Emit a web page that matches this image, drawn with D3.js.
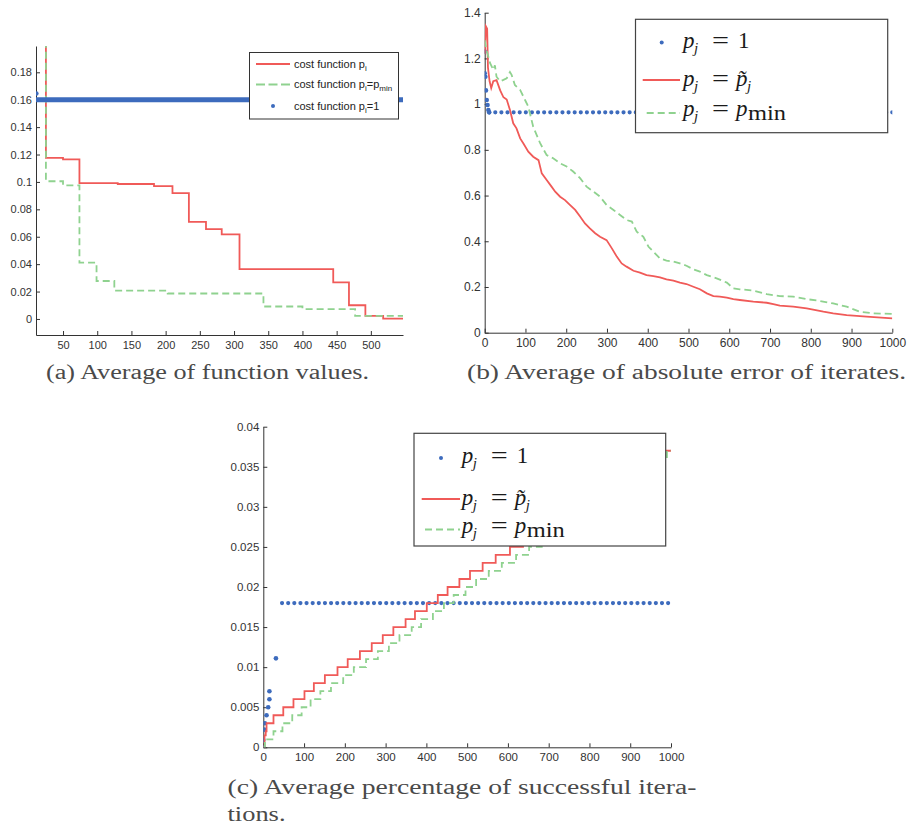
<!DOCTYPE html>
<html>
<head>
<meta charset="utf-8">
<title>Average results</title>
<style type="text/css">
body { margin: 0; background: #fff; }
svg { display: block; }
.tick text { fill: #333; }
</style>
<script src="https://cdn.jsdelivr.net/npm/d3@7"></script>
</head>
<body>
<script type="text/javascript">
// ---- data: [iteration, value] ----

// (a) average of function values
var aRed = [[25, 0.5], [25, 0.1175], [50, 0.1165], [74, 0.0992], [130, 0.0985], [183, 0.0969],
	[210, 0.0918], [234, 0.0709], [259, 0.0656], [282, 0.0617], [308, 0.0364], [445, 0.0267],
	[468, 0.0100], [492, 0.0022], [518, 0.0003], [547, 0.0003]];
var aGreen = [[25, 0.5], [25, 0.1005], [50, 0.0975], [74, 0.0411], [99, 0.0277], [125, 0.0207],
	[203, 0.0186], [343, 0.0091], [400, 0.0072], [477, 0.0022], [547, 0.0022]];
var aBlueDots = [[11, 0.1645]];
var aBlueFlat = [12, 547, 0.16];		// from, to, value (marker at every iteration)
var aXTicks = [50, 100, 150, 200, 250, 300, 350, 400, 450, 500];
var aYTicks = [0, 0.02, 0.04, 0.06, 0.08, 0.1, 0.12, 0.14, 0.16, 0.18];

// (b) average of absolute error of iterates
var bRed = [[0, 1.22], [3, 1.34], [6, 1.33], [8, 1.16], [12, 1.10], [16, 1.07], [21, 1.10], [29, 1.105],
	[38, 1.06], [46, 1.03], [54, 1.02], [62, 0.974], [70, 0.916], [78, 0.894], [87, 0.85], [95, 0.828],
	[107, 0.792], [119, 0.77], [132, 0.755], [140, 0.697], [152, 0.668], [164, 0.639], [173, 0.617],
	[185, 0.595], [197, 0.58], [209, 0.559], [222, 0.537], [234, 0.508], [246, 0.478], [258, 0.456],
	[271, 0.435], [283, 0.42], [299, 0.405], [312, 0.369], [324, 0.333], [336, 0.303], [348, 0.289],
	[365, 0.271], [381, 0.263], [397, 0.252], [414, 0.248], [430, 0.242], [446, 0.233], [463, 0.228],
	[479, 0.219], [495, 0.213], [512, 0.201], [528, 0.19], [545, 0.172], [561, 0.16], [577, 0.158],
	[594, 0.153], [610, 0.147], [626, 0.143], [659, 0.136], [692, 0.131], [708, 0.125], [724, 0.118],
	[757, 0.114], [790, 0.106], [831, 0.092], [855, 0.085], [888, 0.077], [937, 0.07], [1000, 0.063]];
var bGreen = [[0, 1.28], [4, 1.24], [13, 1.18], [21, 1.15], [25, 1.17], [29, 1.12], [38, 1.10],
	[46, 1.106], [54, 1.113], [62, 1.14], [66, 1.128], [74, 1.084], [87, 1.062], [99, 1.018],
	[107, 0.989], [119, 0.901], [136, 0.829], [152, 0.777], [168, 0.763], [185, 0.741], [201, 0.727],
	[217, 0.705], [234, 0.676], [250, 0.639], [267, 0.617], [283, 0.595], [299, 0.559], [316, 0.537],
	[332, 0.515], [348, 0.493], [361, 0.486], [373, 0.442], [389, 0.42], [402, 0.376], [414, 0.354],
	[430, 0.325], [446, 0.315], [463, 0.311], [479, 0.303], [495, 0.293], [512, 0.277], [528, 0.267],
	[545, 0.252], [569, 0.238], [594, 0.219], [610, 0.194], [626, 0.19], [659, 0.184], [692, 0.169],
	[724, 0.16], [757, 0.158], [790, 0.147], [822, 0.139], [855, 0.128], [888, 0.114], [920, 0.092],
	[953, 0.085], [1000, 0.082]];
var bBlueDots = [[0, 1.23], [0, 1.135], [1.6, 1.12], [3, 1.06], [5, 1.018], [7, 0.996], [9, 0.974], [11, 0.964]];
var bBlueFlat = [11, 1000, 0.964, 15];		// from, to, value, marker every n iterations
var bXTicks = [0, 100, 200, 300, 400, 500, 600, 700, 800, 900, 1000];
var bYTicks = [0, 0.2, 0.4, 0.6, 0.8, 1, 1.2, 1.4];

// (c) average percentage of successful iterations
var cRed = [[0, 0], [3, 0.0015], [6, 0.002], [8, 0.003], [25, 0.004], [49, 0.005], [74, 0.006],
	[101, 0.007], [124, 0.008], [151, 0.009], [182, 0.010], [207, 0.011], [237, 0.012], [266, 0.013],
	[293, 0.014], [319, 0.015], [349, 0.016], [372, 0.017], [401, 0.018], [428, 0.019], [452, 0.020],
	[481, 0.021], [507, 0.022], [538, 0.023], [570, 0.024], [605, 0.025], [637, 0.026], [668, 0.027],
	[700, 0.028], [731, 0.029], [763, 0.030], [795, 0.031], [827, 0.032], [858, 0.033], [890, 0.034],
	[922, 0.035], [953, 0.036], [985, 0.037], [1000, 0.037]];
var cGreen = [[0, 0], [4, 0.001], [25, 0.002], [47, 0.003], [71, 0.004], [94, 0.005], [116, 0.006],
	[140, 0.007], [166, 0.008], [196, 0.009], [222, 0.010], [252, 0.011], [281, 0.012], [308, 0.013],
	[334, 0.014], [364, 0.015], [387, 0.016], [416, 0.017], [443, 0.018], [467, 0.019], [496, 0.020],
	[522, 0.021], [553, 0.022], [585, 0.023], [620, 0.024], [652, 0.025], [683, 0.026], [715, 0.027],
	[746, 0.028], [778, 0.029], [810, 0.030], [842, 0.031], [873, 0.032], [905, 0.033], [937, 0.034],
	[960, 0.035], [975, 0.036], [990, 0.037], [1000, 0.037]];
var cBlueDots = [[0, 0], [0, 0.0009], [2.5, 0.0022], [4, 0.003], [8, 0.004], [12, 0.005], [15, 0.006],
	[15, 0.007], [31, 0.0111]];
var cBlueFlat = [46, 993, 0.018, 15];
var cXTicks = [0, 100, 200, 300, 400, 500, 600, 700, 800, 900, 1000];
var cYTicks = [0, 0.005, 0.01, 0.015, 0.02, 0.025, 0.03, 0.035, 0.04];

var captions = {
	a: ["(a) Average of function values."],
	b: ["(b) Average of absolute error of iterates."],
	c: ["(c) Average percentage of successful itera-", "tions."]
};

// ---- styles ----
var RED = "#f05a58", GREEN = "#8fd28f", BLUE = "#3d6bbd";
var SANS = "'Liberation Sans', Arial, sans-serif";
var SERIF = "'Liberation Serif', serif";

var svg = d3.select("body").append("svg")
	.attr("width", 907)
	.attr("height", 830);
svg.append("rect").attr("width", 907).attr("height", 830).attr("fill", "#fff");

var fmt = d3.format("~g");

function panel(id, box, xDom, yDom, xTicks, yTicks, fontSize) {
	var x = d3.scaleLinear().domain(xDom).range([box.left, box.right]);
	var y = d3.scaleLinear().domain(yDom).range([box.bottom, box.top]);
	var g = svg.append("g");

	g.append("clipPath").attr("id", "clip-" + id)
		.append("rect")
		.attr("x", box.left).attr("y", box.top)
		.attr("width", box.right - box.left)
		.attr("height", box.bottom - box.top);

	var gx = g.append("g")
		.attr("transform", "translate(0," + box.bottom + ")")
		.call(d3.axisBottom(x).tickValues(xTicks).tickFormat(fmt)
			.tickSizeInner(-4).tickSizeOuter(0).tickPadding(6));
	var gy = g.append("g")
		.attr("transform", "translate(" + box.left + ",0)")
		.call(d3.axisLeft(y).tickValues(yTicks).tickFormat(fmt)
			.tickSizeInner(-4).tickSizeOuter(0).tickPadding(4));
	[gx, gy].forEach(function(a) {
		a.select(".domain").attr("stroke", "#333");
		a.selectAll(".tick line").attr("stroke", "#333");
		a.selectAll("text").attr("font-family", SANS).attr("font-size", fontSize);
	});

	var plot = g.append("g").attr("clip-path", "url(#clip-" + id + ")");
	return { x: x, y: y, g: g, plot: plot };
}

function drawLine(p, data, color, dashed, curve) {
	var line = d3.line()
		.x(function(d) { return p.x(d[0]); })
		.y(function(d) { return p.y(d[1]); })
		.curve(curve || d3.curveLinear);
	p.plot.append("path")
		.datum(data)
		.attr("d", line)
		.attr("fill", "none")
		.attr("stroke", color)
		.attr("stroke-width", 1.8)
		.attr("stroke-dasharray", dashed ? "7,4" : null);
}

function drawDots(p, data) {
	p.plot.selectAll(null).data(data).enter().append("circle")
		.attr("cx", function(d) { return p.x(d[0]); })
		.attr("cy", function(d) { return p.y(d[1]); })
		.attr("r", 2.3)
		.attr("fill", BLUE);
}

// a flat run of markers: drawn as a round-capped dotted line
function drawFlat(p, flat, width) {
	var x0 = p.x(flat[0]), x1 = p.x(flat[1]), yy = p.y(flat[2]);
	var path = p.plot.append("path")
		.attr("d", "M" + x0 + "," + yy + "H" + x1)
		.attr("stroke", BLUE)
		.attr("stroke-width", width)
		.attr("stroke-linecap", "round");
	if (flat[3]) {
		var n = Math.round((flat[1] - flat[0]) / flat[3]);
		var period = (x1 - x0) / n * 0.9999;
		path.attr("stroke-dasharray", "0 " + period);
	}
}

function caption(lines, x, y0, lengths) {
	lines.forEach(function(t, i) {
		svg.append("text")
			.attr("x", x).attr("y", y0 + i * 27)
			.attr("font-family", SERIF)
			.attr("font-size", 20)
			.attr("fill", "#4a4a4a")
			.attr("textLength", lengths[i])
			.attr("lengthAdjust", "spacingAndGlyphs")
			.text(t);
	});
}

// ---------- (a) ----------
var pa = panel("a", { left: 36, right: 403, top: 46, bottom: 335 },
	[10.5, 547], [-0.0117, 0.1992], aXTicks, aYTicks, 11);
drawLine(pa, aRed, RED, false, d3.curveStepAfter);
drawLine(pa, aGreen, GREEN, true, d3.curveStepAfter);
drawFlat(pa, aBlueFlat, 5);
drawDots(pa, aBlueDots);

// legend (a)
(function() {
	var lg = svg.append("g").attr("font-family", SANS).attr("font-size", 11).attr("fill", "#222");
	lg.append("rect").attr("x", 249.5).attr("y", 52.5).attr("width", 149).attr("height", 66.5)
		.attr("fill", "#fff").attr("stroke", "#333");
	lg.append("line").attr("x1", 256).attr("x2", 290).attr("y1", 64).attr("y2", 64)
		.attr("stroke", RED).attr("stroke-width", 1.8);
	lg.append("line").attr("x1", 256).attr("x2", 290).attr("y1", 84.5).attr("y2", 84.5)
		.attr("stroke", GREEN).attr("stroke-width", 1.8).attr("stroke-dasharray", "9,3.5");
	lg.append("circle").attr("cx", 273).attr("cy", 106).attr("r", 2).attr("fill", BLUE);
	var rows = [
		[["cost function p", 0], ["i", 3]],
		[["cost function p", 0], ["i", 3], ["=p", -3], ["min", 3]],
		[["cost function p", 0], ["i", 3], ["=1", -3]]
	];
	var ys = [67.5, 88, 109.5];
	rows.forEach(function(r, i) {
		var t = lg.append("text").attr("x", 294).attr("y", ys[i]);
		r.forEach(function(s) {
			t.append("tspan").attr("dy", s[1])
				.attr("font-size", s[1] > 0 ? 8 : 11)
				.text(s[0]);
		});
	});
})();

// ---------- (b) ----------
var pb = panel("b", { left: 484.7, right: 892.3, top: 12.7, bottom: 332.7 },
	[0, 1000], [0, 1.4], bXTicks, bYTicks, 12);
drawFlat(pb, bBlueFlat, 4.2);
drawDots(pb, bBlueDots);
drawLine(pb, bRed, RED, false);
drawLine(pb, bGreen, GREEN, true);

// ---------- (c) ----------
var pc = panel("c", { left: 263.3, right: 671, top: 426.7, bottom: 747.3 },
	[0, 1000], [0, 0.04], cXTicks, cYTicks, 11.5);
drawFlat(pc, cBlueFlat, 4.2);
drawDots(pc, cBlueDots);
drawLine(pc, cRed, RED, false, d3.curveStepAfter);
drawLine(pc, cGreen, GREEN, true, d3.curveStepAfter);

// math legend for (b) and (c)
function mathLegend(bx, by, bw, bh, x0, rowY, samples) {
	var lg = svg.append("g").attr("font-family", SERIF).attr("fill", "#1a1a1a");
	lg.append("rect").attr("x", bx).attr("y", by).attr("width", bw).attr("height", bh)
		.attr("fill", "#fff").attr("stroke", "#444").attr("stroke-width", 1.2);
	lg.append("circle").attr("cx", samples.dot).attr("cy", rowY[0] - 5).attr("r", 2).attr("fill", BLUE);
	lg.append("line").attr("x1", samples.red[0]).attr("x2", samples.red[1])
		.attr("y1", rowY[1] - 6).attr("y2", rowY[1] - 6)
		.attr("stroke", RED).attr("stroke-width", 1.8);
	lg.append("line").attr("x1", samples.green[0]).attr("x2", samples.green[1])
		.attr("y1", rowY[2] - 3).attr("y2", rowY[2] - 3)
		.attr("stroke", GREEN).attr("stroke-width", 1.8).attr("stroke-dasharray", "7,4");

	function piece(t, dx, dy, size, italic, len) {
		return { t: t, dx: dx, dy: dy, size: size, italic: italic, len: len };
	}
	var rows = [
		[piece("p", 0, 0, 23, true), piece("j", 11, 5, 15, true),
			piece("=", 29, 0, 23, false, 17), piece("1", 55, 0, 23, false)],
		[piece("p", 0, 0, 23, true), piece("j", 11, 5, 15, true),
			piece("=", 29, 0, 23, false, 17), piece("p\u0303", 53, 0, 23, true),
			piece("j", 64, 5, 15, true)],
		[piece("p", 0, 0, 23, true), piece("j", 11, 5, 15, true),
			piece("=", 29, 0, 23, false, 17), piece("p", 53, 0, 23, true),
			piece("min", 65, 4, 22, false, 38)]
	];
	rows.forEach(function(r, i) {
		r.forEach(function(s) {
			var t = lg.append("text")
				.attr("x", x0 + s.dx).attr("y", rowY[i] + s.dy)
				.attr("font-size", s.size)
				.attr("font-style", s.italic ? "italic" : "normal")
				.text(s.t);
			if (s.len) t.attr("textLength", s.len).attr("lengthAdjust", "spacingAndGlyphs");
		});
	});
}

mathLegend(635.5, 19.3, 252.2, 113.4, 683, [47.5, 86, 116],
	{ dot: 661.7, red: [642.7, 680], green: [646.7, 680] });
mathLegend(414, 433.3, 251.7, 112.7, 461.7, [463, 505, 532.5],
	{ dot: 441, red: [421.7, 460], green: [425, 460] });

// captions
caption(captions.a, 46, 379, [323]);
caption(captions.b, 467, 379, [439]);
caption(captions.c, 227.5, 794, [469, 58]);
</script>
</body>
</html>
